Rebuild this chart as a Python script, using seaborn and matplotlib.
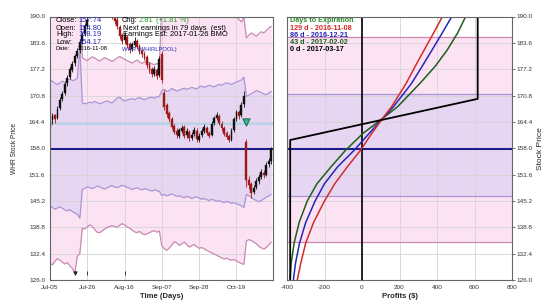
import numpy as np
import pandas as pd
import matplotlib
matplotlib.use("Agg")
import matplotlib.pyplot as plt
import seaborn as sns

# ---------------- data ----------------
tick_dates = ['2016-07-05', '2016-07-26', '2016-08-16', '2016-09-07', '2016-09-28', '2016-10-19']
tick_labels = ['Jul-05', 'Jul-26', 'Aug-16', 'Sep-07', 'Sep-28', 'Oct-19']

opens = [163.2, 164.8, 166.0, 165.4, 167.8, 170.0, 171.5, 173.8, 175.3, 177.0,
         178.8, 180.5, 181.8, 184.0, 185.8, 187.8, 190.5, 192.2, 193.8, 194.0,
         193.2, 195.0, 195.3, 194.1, 192.6, 191.3, 190.4, 189.2, 187.5, 185.4,
         184.2, 185.0, 183.2, 182.0, 183.0, 184.0, 182.8, 181.6, 181.0, 180.2,
         178.4, 177.2, 176.1, 177.0, 175.8, 181.0, 171.5, 168.4, 166.5, 165.2,
         163.4, 162.2, 161.0, 162.2, 163.2, 161.1, 162.0, 160.5, 161.4, 162.3,
         160.1, 161.2, 162.2, 163.0, 161.7, 161.2, 164.1, 165.4, 165.8, 164.0,
         162.9, 161.7, 160.9, 160.1, 162.4, 165.1, 166.7, 166.0, 168.7, 159.5,
         150.4, 149.2, 147.4, 148.5, 150.0, 151.1, 152.0, 151.6, 154.1, 154.80]
highs = [166.0, 166.6, 166.4, 168.2, 170.4, 172.0, 174.2, 175.8, 177.9, 179.2,
         181.0, 182.4, 184.5, 186.3, 188.4, 190.0, 193.0, 194.3, 195.2, 194.8,
         195.6, 196.3, 195.8, 194.6, 193.2, 191.9, 191.0, 189.8, 188.0, 186.1,
         186.2, 185.6, 183.8, 183.9, 184.9, 184.5, 183.3, 182.2, 181.5, 180.6,
         178.9, 177.7, 177.9, 177.5, 180.4, 181.6, 172.2, 169.0, 167.0, 165.7,
         164.0, 162.8, 163.0, 163.7, 163.6, 162.9, 162.5, 161.9, 163.1, 162.8,
         161.6, 162.9, 163.8, 163.5, 162.2, 164.6, 165.9, 166.7, 166.3, 164.5,
         163.4, 162.1, 161.4, 162.8, 165.6, 167.4, 167.2, 169.2, 172.0, 160.2,
         151.2, 149.8, 149.0, 150.8, 151.7, 152.9, 152.6, 154.6, 155.6, 158.19]
lows = [162.8, 164.0, 164.2, 165.0, 167.2, 169.4, 171.0, 173.0, 174.8, 176.4,
        178.0, 179.8, 181.2, 183.4, 185.2, 187.0, 189.6, 191.5, 192.9, 192.2,
        192.8, 194.2, 193.4, 192.2, 190.8, 189.5, 188.2, 187.0, 184.6, 183.2,
        183.6, 182.4, 181.2, 181.5, 182.6, 182.0, 180.9, 180.2, 179.4, 177.6,
        176.3, 175.4, 175.6, 174.9, 175.2, 173.8, 167.4, 165.6, 164.3, 162.6,
        161.4, 160.6, 160.5, 161.8, 160.4, 160.6, 159.8, 159.9, 160.9, 159.6,
        159.5, 160.7, 161.8, 161.2, 160.4, 160.9, 163.6, 164.8, 163.6, 162.2,
        160.9, 160.2, 159.4, 159.7, 162.0, 164.5, 165.1, 165.6, 168.1, 148.6,
        148.2, 146.0, 146.8, 148.0, 149.4, 150.6, 150.8, 151.2, 153.5, 154.17]
closes = [164.5, 165.8, 165.0, 167.5, 169.8, 171.2, 173.5, 175.0, 177.2, 178.5,
          180.3, 181.6, 183.8, 185.5, 187.6, 189.2, 192.0, 193.5, 194.2, 193.0,
          194.8, 195.5, 194.0, 192.8, 191.5, 190.2, 189.0, 187.8, 185.2, 184.0,
          185.4, 183.0, 181.8, 183.2, 184.1, 182.6, 181.5, 180.8, 180.0, 178.2,
          177.0, 176.0, 177.3, 175.5, 179.6, 174.5, 168.0, 166.2, 165.0, 163.2,
          162.0, 161.2, 162.4, 163.0, 161.0, 162.2, 160.4, 161.3, 162.5, 160.2,
          161.0, 162.3, 163.1, 161.8, 161.0, 164.0, 165.3, 166.0, 164.2, 162.8,
          161.5, 160.8, 160.0, 162.2, 165.0, 166.8, 165.8, 168.5, 170.8, 150.2,
          149.0, 147.2, 148.3, 150.1, 151.0, 152.2, 151.4, 154.0, 154.93, 157.74]

# expected-move bands (upper/lower, 1 and 2 sigma)
band1_upper = [174.8, 174.2, 173.8, 173.5, 173.9, 174.3, 174.0, 174.5, 174.8, 174.4, 174.6, 175.0,
               182.5,
               169.0, 168.8, 168.9, 169.2, 169.0, 169.4, 169.1, 168.8, 169.0, 169.3, 169.5, 169.2,
               169.0, 169.6, 170.2, 170.4, 169.8, 169.5, 169.7, 169.9, 170.0, 169.8, 170.1, 170.3,
               170.0, 169.8, 170.1, 170.3, 170.4, 170.2, 170.5, 170.6,
               172.0, 172.3, 171.8, 172.0, 172.5, 172.2, 171.9, 172.1, 172.4, 172.6, 172.3, 172.5,
               172.8, 172.6, 172.4, 172.9, 173.1, 172.8, 173.0, 173.3, 173.1, 172.9, 173.2, 173.5,
               173.3, 173.6, 173.9, 173.7, 173.5, 173.8, 174.1, 174.3, 174.6,
               175.3,
               170.6, 170.9, 171.3, 171.6, 172.0, 171.8, 171.5, 171.2, 171.0, 171.4, 171.8]
band1_lower = [144.0, 143.6, 143.2, 143.5, 143.8, 143.4, 143.0, 142.8, 143.1, 142.6, 142.3, 142.0,
               141.0,
               148.0, 148.3, 148.6, 148.4, 148.2, 148.5, 148.8, 148.6, 148.3, 148.1, 148.4, 148.7,
               148.9, 148.6, 148.4, 148.7, 149.0, 148.8, 148.5, 148.3, 148.0, 148.2, 148.4, 148.1,
               147.9, 148.2, 148.0, 147.8, 147.6, 147.9, 147.7, 147.5,
               146.5, 146.8, 146.4, 146.7, 146.9, 146.6, 146.3, 146.5, 146.2, 146.0, 146.3, 146.1,
               145.8, 146.0, 146.2, 145.9, 145.6, 145.8, 145.5, 145.3, 145.6, 145.4, 145.1, 145.3,
               145.0, 144.8, 145.1, 144.9, 144.6, 144.8, 144.5, 144.3, 144.0, 143.6,
               146.8, 146.5, 146.0, 145.6, 145.3, 145.0, 145.3, 145.7, 146.1, 146.4, 146.8]
band2_upper = [193.0, 192.5, 192.0, 192.3, 192.8, 193.0, 192.6, 193.2, 193.5, 193.0, 193.4, 194.0,
               196.0,
               180.0, 179.6, 179.3, 179.8, 180.2, 179.9, 179.5, 179.2, 179.6, 180.0, 179.7, 179.4,
               179.1, 179.5, 179.9, 180.3, 180.0, 179.6, 179.3, 179.0, 178.7, 179.1, 179.4, 179.0,
               178.6, 178.9, 179.2, 178.8, 178.5, 178.3, 178.6, 178.2,
               193.0, 193.4, 193.8, 193.5, 193.2, 193.6, 194.0, 193.7, 193.4, 193.8, 194.1, 193.9,
               193.6, 193.9, 194.2, 194.0, 193.7, 193.5, 193.2, 193.0, 192.7, 192.4, 192.1, 191.8,
               191.5, 191.2, 191.0, 190.7, 190.4, 190.2, 190.0,
               189.3, 188.7, 189.8,
               184.8, 185.5, 186.0, 185.6, 185.2, 185.8, 186.3, 186.0, 186.6, 187.2, 187.6]
band2_lower = [130.0, 129.7, 130.6, 131.2, 130.8, 130.3, 129.9, 130.2, 129.4, 128.8,
               127.6, 131.8, 132.4,
               138.6, 138.4, 138.9, 139.4, 139.0, 138.2, 137.6, 137.5, 137.9, 138.4, 138.8, 139.0,
               139.2, 139.0, 138.8, 139.3, 139.7, 139.4, 138.9, 138.6, 138.1, 137.7, 137.5, 137.8,
               137.3, 137.0, 137.2, 137.5, 137.8, 138.0, 137.6, 137.9,
               134.2, 133.6, 133.2, 133.8, 134.5, 135.3, 135.0, 134.4, 134.8, 135.2, 134.6, 134.0,
               134.3, 134.6, 134.1, 133.7, 133.9, 133.6, 133.2, 132.9, 132.6, 132.3, 132.0, 131.7,
               131.4, 131.1, 131.3, 131.0, 130.8, 131.0, 130.6, 130.3, 130.0, 129.8,
               135.5, 135.8, 135.6, 135.2, 134.8, 134.2, 133.8, 133.5, 133.9, 134.5, 135.2]

event_idx = [10, 15, 30]
event_marks = ['v', '|', '|']
earnings_idx = 79
earnings_level = 164.3

last_close = 157.74
breakeven = 163.83
exp_band1 = (146.3, 171.2)
exp_band2 = (135.2, 185.1)

# profit curves (profit in $ vs stock price)
curve_prices = [126, 130, 135, 140, 145.2, 149.4, 153.5, 157.5, 161.6, 165.25, 168.1, 173.8, 178, 181.9, 186, 190]
profit_129d = [-345, -327, -300, -258, -200, -145, -78, -8, 52, 110, 158, 236, 285, 332, 382, 429]
profit_86d = [-366, -355, -333, -300, -250, -200, -130, -42, 38, 110, 168, 265, 322, 374, 428, 479]
profit_43d = [-383, -378, -362, -335, -292, -240, -165, -88, 5, 110, 190, 310, 392, 455, 510, 553]
expiry_prices = [126, 160, 170, 190]
expiry_profit = [-383, -383, 617, 617]

legend_lines = ['Days to Expiration', '129 d - 2016-11-08', '86 d - 2016-12-21',
                '43 d - 2017-02-02', '0 d - 2017-03-17']

y_ticks = [126.0, 132.4, 138.8, 145.2, 151.6, 158.0, 164.4, 170.8, 177.2, 183.6, 190.0]
x_ticks_profit = [-400, -200, 0, 200, 400, 600, 800]

# ---------------- styling ----------------
sns.set_theme(style="whitegrid")
plt.rcParams['font.family'] = ['Liberation Sans', 'DejaVu Sans']

PINK_FILL = '#fbe3f3'
PURPLE_FILL = '#e7d6f1'
PINK_LINE = '#c98ab2'
PURPLE_LINE = '#a996d6'
NAVY = '#1c1c8a'
LIGHTBLUE = '#a9d4ec'
RED = '#d42a2a'
BLUE = '#2626b8'
GREEN = '#1d5e1d'

fig = plt.figure(figsize=(5.5, 3.08), dpi=100)
fig.patch.set_facecolor('white')
W, H = 550, 308
axL = fig.add_axes([50 / W, 28 / H, 223 / W, 263.5 / H])
axR = fig.add_axes([287 / W, 28 / H, 225 / W, 263.5 / H])

dates = pd.bdate_range('2016-07-05', '2016-11-08', freq='C', holidays=['2016-09-05'])
x = np.arange(len(closes))
df = pd.DataFrame({'x': x, 'open': opens, 'high': highs, 'low': lows, 'close': closes,
                   'u1': band1_upper, 'l1': band1_lower, 'u2': band2_upper, 'l2': band2_lower})

# --- left panel: bands ---
axL.fill_between(df['x'], df['l2'], df['u2'], color=PINK_FILL, lw=0, zorder=0.2)
axL.fill_between(df['x'], df['l1'], df['u1'], color=PURPLE_FILL, lw=0, zorder=0.3)
for col, c in [('u2', PINK_LINE), ('l2', PINK_LINE), ('u1', PURPLE_LINE), ('l1', PURPLE_LINE)]:
    sns.lineplot(data=df, x='x', y=col, ax=axL, color=c, lw=0.9, zorder=1)

axL.axhline(breakeven, color=LIGHTBLUE, lw=1.2, zorder=1.2)
axL.axhline(last_close, color=NAVY, lw=1.5, zorder=1.3)

# --- candles ---
o = df['open'].to_numpy(); c = df['close'].to_numpy()
cols = np.where(c >= o, '#111111', '#a01818')
axL.vlines(df['x'], df['low'], df['high'], colors=cols, lw=0.6, zorder=2)
axL.bar(df['x'], np.abs(c - o), bottom=np.minimum(o, c), width=0.75, color=cols,
        edgecolor=cols, lw=0.3, zorder=2.1)

# event marks & earnings triangle
for i, m in zip(event_idx, event_marks):
    axL.scatter([i], [127.6], marker=m, s=6, color='#222222', lw=0.6, zorder=3)
axL.scatter([earnings_idx], [earnings_level], marker='v', s=28, color='#33b38c',
            edgecolor='#1e5a40', lw=0.6, zorder=4)

tick_pos = [dates.get_loc(pd.Timestamp(d)) for d in tick_dates]
axL.set_xticks(tick_pos)
axL.set_xticklabels(tick_labels)
axL.set_xlim(0, 89.7)
axL.set_ylim(126, 190)
axL.set_yticks(y_ticks)
axL.set_yticklabels([f'{v:.1f}' for v in y_ticks])
axL.set_xlabel('Time (Days)', fontsize=5.5, fontweight='bold', labelpad=2)
axL.set_ylabel('WHR Stock Price', fontsize=4.8, labelpad=8)

# --- right panel ---
axR.axhspan(exp_band2[0], exp_band2[1], color=PINK_FILL, lw=0, zorder=0.2)
axR.axhspan(exp_band1[0], exp_band1[1], color=PURPLE_FILL, lw=0, zorder=0.3)
for lvl in exp_band2:
    axR.axhline(lvl, color=PINK_LINE, lw=0.9, zorder=1)
for lvl in exp_band1:
    axR.axhline(lvl, color=PURPLE_LINE, lw=0.9, zorder=1)
axR.axhline(last_close, color=NAVY, lw=1.5, zorder=1.3)
axR.axvline(0, color='black', lw=1.2, zorder=1.5)

cdf = pd.DataFrame({'price': curve_prices, 'p129': profit_129d, 'p86': profit_86d, 'p43': profit_43d})
for col, colr in [('p43', GREEN), ('p86', BLUE), ('p129', RED)]:
    sns.lineplot(data=cdf, x=col, y='price', sort=False, estimator=None, ax=axR,
                 color=colr, lw=1.1, zorder=2)
edf = pd.DataFrame({'price': expiry_prices, 'profit': expiry_profit})
sns.lineplot(data=edf, x='profit', y='price', sort=False, estimator=None, ax=axR,
             color='black', lw=1.3, zorder=2.5)

axR.set_xlim(-400, 800)
axR.set_ylim(126, 190)
axR.set_xticks(x_ticks_profit)
axR.set_xticklabels([str(v) for v in x_ticks_profit])
axR.set_yticks(y_ticks)
axR.set_yticklabels([f'{v:.1f}' for v in y_ticks])
axR.yaxis.tick_right()
axR.yaxis.set_label_position('right')
axR.set_xlabel('Profits ($)', fontsize=5.5, fontweight='bold', labelpad=2)
axR.set_ylabel('Stock Price', fontsize=6, labelpad=3)

for ax in (axL, axR):
    ax.grid(True, color='#d4d4d4', lw=0.6)
    ax.set_axisbelow(True)
    ax.tick_params(axis='both', labelsize=4.6, length=2, width=0.5, pad=1.5,
                   colors='#333333', direction='out')
    for s in ax.spines.values():
        s.set_color('#666666')
        s.set_linewidth(0.8)
axR.tick_params(axis='y', which='both', left=False, right=True)

# --- text annotations ---
def ftxt(px, py, s, **kw):
    fig.text(px / W, 1 - py / H, s, ha='left', va='center', **kw)

fs = 5.4
ftxt(56, 21, 'Close:', fontsize=fs, color='black')
ftxt(78, 21, '157.74', fontsize=fs, color=BLUE)
ftxt(56, 28, 'Open:', fontsize=fs, color='black')
ftxt(78, 28, '154.80', fontsize=fs, color=BLUE)
ftxt(56, 35, 'High:', fontsize=fs, color='black')
ftxt(78, 35, '158.19', fontsize=fs, color=BLUE)
ftxt(56, 42, 'Low:', fontsize=fs, color='black')
ftxt(78, 42, '154.17', fontsize=fs, color=BLUE)
ftxt(56, 49, 'Date:', fontsize=4.2, color='black')
ftxt(78, 49, '2016-11-08', fontsize=4.2, color='black')
ftxt(122, 21, 'Chg:', fontsize=fs, color='black')
ftxt(139, 21, '2.81', fontsize=fs, color='#2a9a2a')
ftxt(156, 21, '(+1.81 %)', fontsize=fs, color='#2a9a2a')
ftxt(123, 28, 'Next earnings in 79 days  (est)', fontsize=fs, color='black')
ftxt(123, 35, 'Earnings Est: 2017-01-26 BMO', fontsize=fs, color='black')
ftxt(122, 49, 'WHR (WHIRLPOOL)', fontsize=4.2, color=BLUE)

leg_colors = ['#2a8a2a', RED, BLUE, GREEN, 'black']
for k, (s, colr) in enumerate(zip(legend_lines, leg_colors)):
    ftxt(290, 21 + 7.2 * k, s, fontsize=5.2, color=colr, fontweight='bold')

fig.savefig('out.png', dpi=100, facecolor='white')
